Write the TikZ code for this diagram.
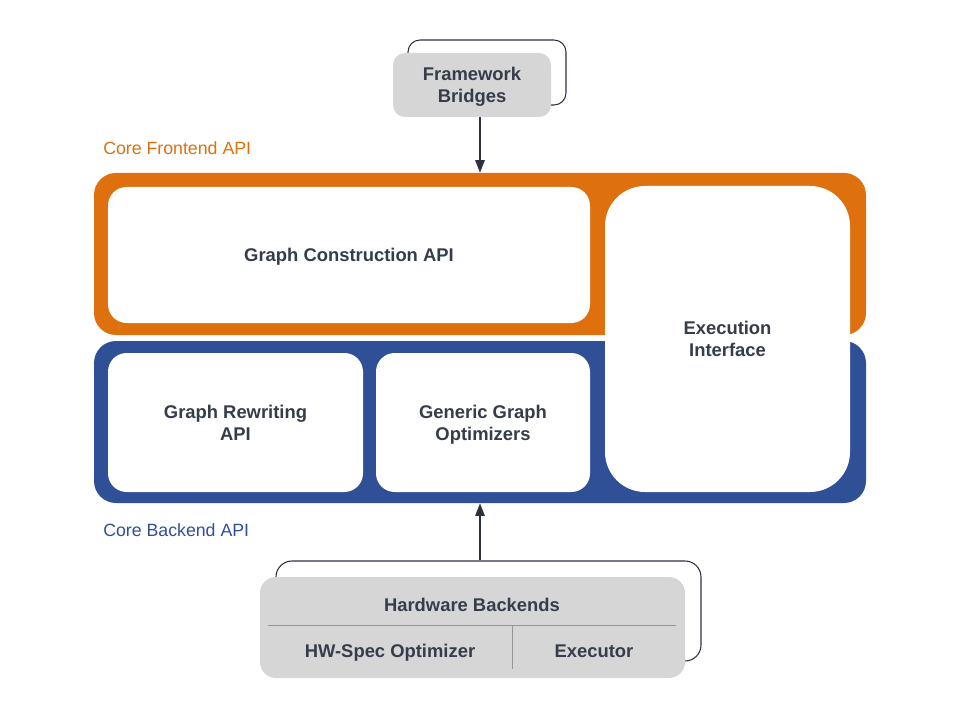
\documentclass[tikz,border=0pt]{standalone}
\usepackage{fontspec}
\setmainfont{Liberation Sans}
\usetikzlibrary{arrows.meta,calc}
\definecolor{corange}{RGB}{222,112,14}
\definecolor{cblue}{RGB}{47,79,150}
\definecolor{cgray}{RGB}{214,214,214}
\definecolor{ctext}{RGB}{54,60,74}
\definecolor{cline}{RGB}{45,49,62}
\definecolor{csep}{RGB}{150,150,150}
\begin{document}
\begin{tikzpicture}[x=0.75pt,y=-0.75pt,
  outer/.style={rectangle,rounded corners=16.5pt,minimum width=579pt,minimum height=121.5pt,inner sep=0pt},
  inbox/.style={rectangle,fill=white,rounded corners=14pt,inner sep=0pt,align=center,text depth=0pt,
     font=\fontsize{13.8}{16.5}\selectfont\bfseries,text=ctext},
  graybox/.style={rectangle,fill=cgray,rounded corners=9pt,inner sep=0pt,align=center,text depth=0pt,
     font=\fontsize{13.8}{16.5}\selectfont\bfseries,text=ctext},
  backbox/.style={rectangle,draw=cline,line width=0.8pt,rounded corners=9pt,inner sep=0pt},
  lbl/.style={anchor=west,inner sep=0pt,font=\fontsize{13.3}{16}\selectfont},
  conn/.style={draw=cline,line width=1.3pt,-{Triangle[length=9.5pt,width=7pt]}},
  txt/.style={inner sep=0pt,text depth=0pt,text height=9.9pt,font=\fontsize{13.8}{16.5}\selectfont\bfseries,text=ctext}
]
\useasboundingbox (0,0) rectangle (960,720);
% outer bands
\node[outer,fill=corange] (front) at (480,254) {};
\node[outer,fill=cblue] (back) at (480,422) {};
% inner boxes
\node[inbox,minimum width=361.5pt,minimum height=102pt] (gca) at (349,255) {Graph Construction API};
\node[inbox,minimum width=191.25pt,minimum height=104.25pt] (gra) at (235.5,422.5) {Graph Rewriting\\API};
\node[inbox,minimum width=160.5pt,minimum height=104.25pt] (ggo) at (483,422.5) {Generic Graph\\Optimizers};
\node[inbox,rounded corners=30pt,minimum width=183.75pt,minimum height=229.5pt] (exec) at (727.5,339) {Execution\\Interface};
% labels
\node[lbl,text=corange] (lfront) at (103,148) {Core Frontend API};
\node[lbl,text=cblue] (lback) at (103,530) {Core Backend API};
% framework bridges
\node[backbox,minimum width=118.5pt,minimum height=48.75pt] (fbback) at (487,72.5) {};
\node[graybox,minimum width=118.5pt,minimum height=48pt] (fb) at (472,85) {Framework\\Bridges};
% hardware backends
\node[backbox,rounded corners=12pt,minimum width=318.75pt,minimum height=75pt] (hwback) at (488.5,611) {};
\node[graybox,rounded corners=12pt,minimum width=318.75pt,minimum height=75.75pt] (hw) at (472.5,627.5) {};
\coordinate (hl) at (268,625);
\coordinate (hr) at (676,625);
\coordinate (vt) at (512,625);
\coordinate (vb) at (512,669);
\draw[csep,line width=0.6pt] (hl) -- (hr);
\draw[csep,line width=0.6pt] (vt) -- (vb);
\node[txt] (hwt) at (472,605) {Hardware Backends};
\node[txt] (hwo) at (390,651) {HW-Spec Optimizer};
\node[txt] (hwe) at (594,651) {Executor};
% connectors
\draw[conn] (fb.south -| front.north) -- (front.north);
\draw[conn] (hwback.north -| back.south) -- (back.south);
\end{tikzpicture}
\end{document}
